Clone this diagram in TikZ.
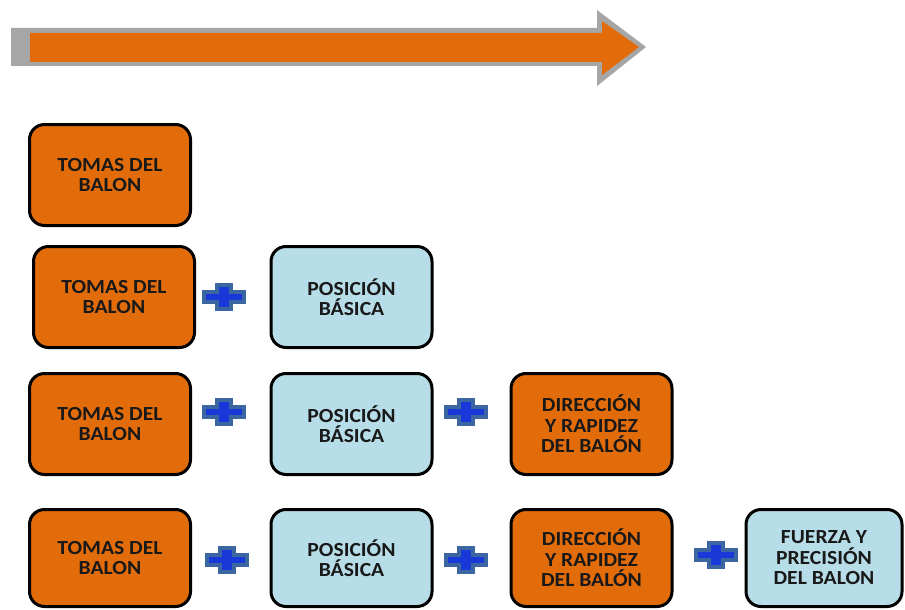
\documentclass[tikz,border=0pt]{standalone}
\usepackage{fontspec}
\setmainfont{Carlito}[FakeStretch=1.08]
\definecolor{boxorange}{HTML}{E36C0A}
\definecolor{boxblue}{HTML}{B7DDE8}
\definecolor{arrowgrey}{HTML}{A6A6A6}
\definecolor{plusedge}{HTML}{3C66A2}
\definecolor{plusfill}{HTML}{1838D8}
\tikzset{
  card/.style={draw=black, line width=3pt, rounded corners=15pt,
    minimum width=161pt, minimum height=101pt, inner sep=0pt,
    align=center, font=\fontsize{20}{20.5}\selectfont\bfseries, text=black!90},
  orangecard/.style={card, fill=boxorange},
  bluecard/.style={card, fill=boxblue},
  lowcard/.style={minimum height=97pt},
  plussign/.pic={
    \path[fill=plusfill, draw=plusedge, line width=4pt, line join=miter]
      (-20,-5) -- (-7,-5) -- (-7,-12) -- (7,-12) -- (7,-5) -- (20,-5)
      -- (20,5) -- (7,5) -- (7,12) -- (-7,12) -- (-7,5) -- (-20,5) -- cycle;
  }
}
\begin{document}
\begin{tikzpicture}[x=1pt,y=-1pt]
\useasboundingbox (0,0) rectangle (905,610);

% progress arrow: grey outline under an orange body
\fill[arrowgrey] (11,28) -- (597,28) -- (597,10) -- (646,47) -- (597,86)
  -- (597,66) -- (11,66) -- cycle;
\fill[boxorange] (30,33) -- (602,33) -- (602,21) -- (639,47) -- (602,75)
  -- (602,62) -- (30,62) -- cycle;

% row 1
\node[orangecard] (r1a) at (110,175) {TOMAS DEL\\BALON};

% row 2
\node[orangecard] (r2a) at (114,297) {TOMAS DEL\\BALON};
\node[bluecard]   (r2b) at (351.5,297) {POSICIÓN\\BÁSICA};
\coordinate (p2a) at (224,297);
\pic at (p2a) {plussign};

% row 3
\node[orangecard] (r3a) at (110,424) {TOMAS DEL\\BALON};
\node[bluecard]   (r3b) at (351.5,424) {POSICIÓN\\BÁSICA};
\node[orangecard] (r3c) at (591.5,424) {DIRECCIÓN\\Y RAPIDEZ\\DEL BALÓN};
\coordinate (p3a) at (224,412);
\coordinate (p3b) at (466,412);
\pic at (p3a) {plussign};
\pic at (p3b) {plussign};

% row 4
\node[orangecard, lowcard] (r4a) at (110,558) {TOMAS DEL\\BALON};
\node[bluecard, lowcard]   (r4b) at (351.5,558) {POSICIÓN\\BÁSICA};
\node[orangecard, lowcard] (r4c) at (591.5,558) {DIRECCIÓN\\Y RAPIDEZ\\DEL BALÓN};
\node[bluecard, lowcard, minimum width=156pt] (r4d) at (824,558) {FUERZA Y\\PRECISIÓN\\DEL BALON};
\coordinate (p4a) at (227,560);
\coordinate (p4b) at (466,560);
\coordinate (p4c) at (716,555);
\pic at (p4a) {plussign};
\pic at (p4b) {plussign};
\pic at (p4c) {plussign};
\end{tikzpicture}
\end{document}
